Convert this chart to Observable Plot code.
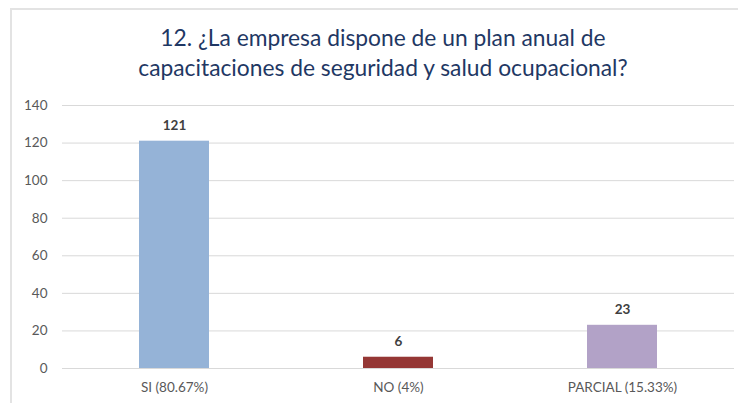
<!DOCTYPE html>
<html>
<head>
<meta charset="utf-8">
<script src="https://cdn.jsdelivr.net/npm/d3@7"></script>
<script src="https://cdn.jsdelivr.net/npm/@observablehq/plot@0.6"></script>
<style>
  html, body { margin: 0; padding: 0; background: #fff; overflow: hidden; }
  #wrap { position: relative; width: 738px; height: 403px; }
  #frame { position: absolute; left: 10px; top: 8px; width: 800px; height: 450px; border: 2px solid #e3e3e3; box-sizing: border-box; pointer-events: none; }
  #title { height: 90px; box-sizing: border-box; padding-top: 22px; width: 766px; text-align: center; font-family: Lato, "Open Sans", sans-serif; font-size: 22.8px; line-height: 30px; color: #1f3864; }
  #chart svg { display: block; }
</style>
</head>
<body>
<div id="wrap">
  <div id="frame"></div>
  <div id="title">12. ¿La empresa dispone de un plan anual de<br>capacitaciones de seguridad y salud ocupacional?</div>
  <div id="chart"></div>
</div>
<script>
const categories = ["SI (80.67%)", "NO (4%)", "PARCIAL (15.33%)"];
const values = [121, 6, 23];
const colors = ["#95b3d7", "#953735", "#b2a2c7"];
const yTicks = [0, 20, 40, 60, 80, 100, 120, 140];

const data = categories.map((c, i) => ({cat: c, value: values[i], color: colors[i]}));

const chart = Plot.plot({
  width: 738,
  height: 313,
  marginLeft: 62,
  marginRight: 4,
  marginTop: 15,
  marginBottom: 35,
  style: { fontFamily: "Lato, 'Open Sans', sans-serif", background: "transparent" },
  x: { domain: categories, paddingInner: 0.6875, paddingOuter: 0.34375, label: null },
  y: { domain: [0, 140], ticks: yTicks, label: null },
  marks: [
    Plot.ruleY(yTicks, { stroke: "#d9d9d9", strokeWidth: 1 }),
    Plot.barY(data, { x: "cat", y: "value", fill: "color" }),
    Plot.text(data, { x: "cat", y: "value", text: d => String(d.value), dy: -16, fontWeight: "bold", fontSize: 13.5, fill: "#404040" }),
    Plot.axisY({ ticks: yTicks, tickSize: 0, tickPadding: 15, fontSize: 13.5, color: "#595959", label: null }),
    Plot.axisX({ tickSize: 0, tickPadding: 14, fontSize: 13.5, color: "#595959", label: null })
  ]
});
document.getElementById("chart").appendChild(chart);
</script>
</body>
</html>
